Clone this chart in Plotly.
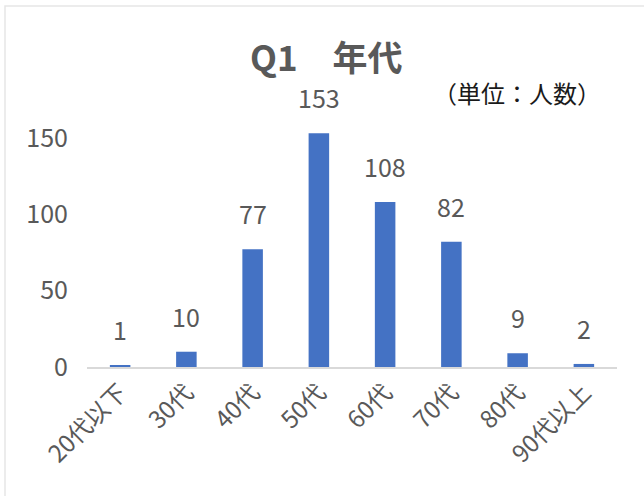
import plotly.graph_objects as go

categories = ["20代以下", "30代", "40代", "50代", "60代", "70代", "80代", "90代以上"]
counts = [1, 10, 77, 153, 108, 82, 9, 2]
y_ticks = [0, 50, 100, 150]
title_text = "Q1　年代"
unit_text = "（単位：人数）"

FONT = "Noto Sans CJK JP"
GRAY = "#595959"

fig = go.Figure()
fig.add_trace(go.Bar(x=categories, y=counts, marker_color="#4472C4",
                     marker_line_width=0, width=0.31, hoverinfo="skip"))

for c, v in zip(categories, counts):
    fig.add_annotation(x=c, y=v, text=str(v), showarrow=False, yanchor="bottom",
                       yshift=16, font=dict(family=FONT, size=25, color=GRAY))

fig.add_annotation(x=0.451, y=1.1345, xref="paper", yref="paper", text="<b>" + title_text + "</b>",
                   showarrow=False, xanchor="center", yanchor="middle",
                   font=dict(family=FONT, size=35, color=GRAY))
fig.add_annotation(x=0.811, y=1.0, xref="paper", yref="paper", text=unit_text,
                   showarrow=False, xanchor="center", yanchor="middle",
                   font=dict(family=FONT, size=24, color="#1a1a1a"))

fig.add_shape(type="rect", xref="paper", yref="paper", x0=-0.1547, x1=1.06, y0=-0.49, y1=1.3127,
              line=dict(color="#E6E6E6", width=1.5), fillcolor="rgba(0,0,0,0)", layer="below")

fig.update_layout(
    width=644, height=496,
    margin=dict(l=87, r=27, t=92, b=129),
    paper_bgcolor="white", plot_bgcolor="white",
    showlegend=False,
    font=dict(family=FONT, color=GRAY),
    xaxis=dict(tickangle=-45, tickfont=dict(family=FONT, size=24, color=GRAY),
               showline=True, linecolor="#D9D9D9", linewidth=2, ticks="", showgrid=False),
    yaxis=dict(range=[0, 180], tickvals=y_ticks, showgrid=False, zeroline=False,
               showline=False, ticks="", tickfont=dict(family=FONT, size=25, color=GRAY),
               ticklabelstandoff=18),
)

fig.write_html("out.html", config={"displayModeBar": False},
               post_script="document.body.style.margin='0';")
